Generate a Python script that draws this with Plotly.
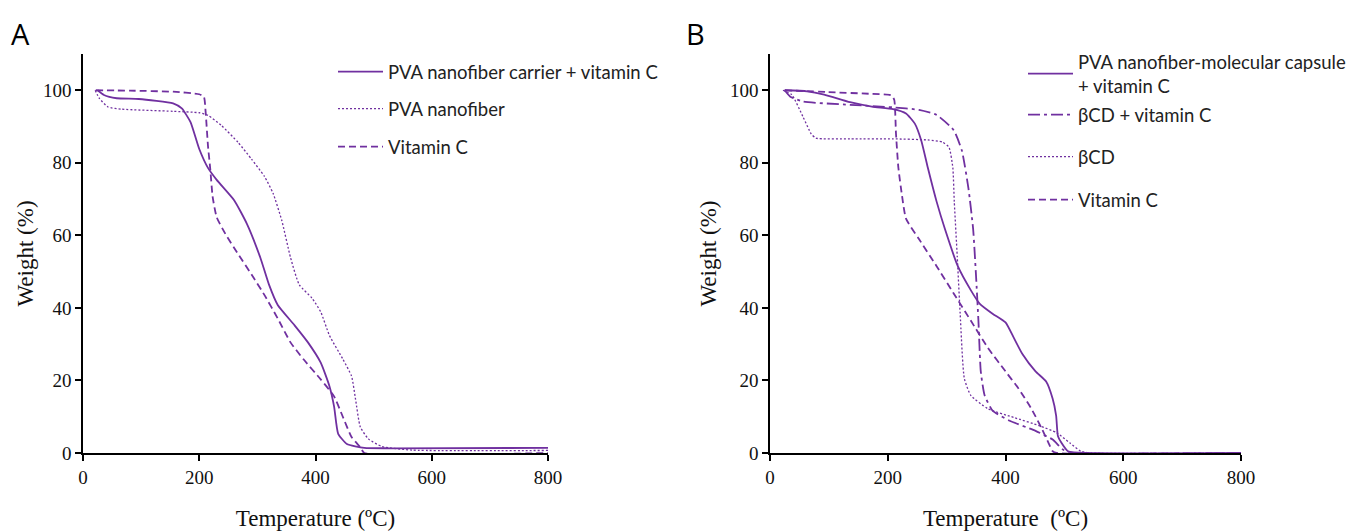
import plotly.graph_objects as go

PURPLE = "#7030A0"

# ---------------- Panel A data ----------------
a_carrier_T = [25, 36, 58, 96, 155, 170, 185, 200, 215, 230, 260, 282, 305, 320, 335, 364, 387, 409, 424, 432, 439, 454, 484, 529, 800]
a_carrier_W = [100, 98.7, 97.8, 97.6, 96.4, 95, 91.2, 83.8, 78.6, 75.3, 69.7, 63.2, 53.9, 46.4, 40.8, 35.2, 30.5, 24.9, 18.4, 12.8, 5.3, 2.5, 1.4, 1.3, 1.4]

a_pva_T = [21, 28, 43, 66, 155, 200, 215, 238, 267, 290, 312, 327, 342, 357, 372, 394, 409, 424, 447, 462, 469, 477, 491, 514, 566, 800]
a_pva_W = [100, 97.8, 95.4, 94.8, 94.2, 93.8, 93.1, 90.3, 85.6, 81, 76.3, 71.6, 64.1, 53.9, 46.4, 42.7, 38.9, 32.4, 25.9, 21.2, 14.7, 7.2, 3.9, 1.8, 0.8, 0.7]

a_vitc_T = [22, 81, 155, 200, 208, 211, 215, 219, 223, 230, 245, 267, 290, 312, 335, 357, 379, 409, 432, 447, 462, 477, 484, 800]
a_vitc_W = [100, 99.9, 99.6, 98.9, 98.2, 94, 84.7, 78.2, 70.7, 65, 60.4, 54.8, 49.2, 43.6, 37.1, 30.5, 25.9, 20.3, 15.6, 10, 4.4, 1.6, 0, 0]

# ---------------- Panel B data ----------------
b_capsule_T = [25, 63, 92, 136, 173, 209, 231, 246, 257, 268, 283, 297, 319, 341, 356, 378, 400, 414, 429, 451, 469, 480, 486, 489, 495, 506, 539, 800]
b_capsule_W = [100, 99.7, 98.8, 96.7, 95.5, 94.8, 93.6, 90.8, 86.1, 78.7, 69.3, 61.8, 51.5, 44.9, 41.2, 38.4, 36, 31.8, 27.2, 22.5, 19.7, 15, 10.3, 4.7, 2.8, 0.5, 0, 0]

b_bcdvit_T = [25, 34, 56, 136, 209, 253, 283, 312, 326, 337, 345, 350, 354, 358, 364.5, 378, 407, 451, 480, 498, 517, 800]
b_bcdvit_W = [100, 98.3, 96.9, 96, 95.3, 94.6, 93.2, 89, 83.3, 73, 61.8, 48.7, 36.5, 22.5, 15.9, 11.7, 8.9, 6.1, 3.7, 0.9, 0, 0]

b_bcd_T = [22, 37, 56, 70, 78, 136, 209, 268, 293, 304, 310.5, 313, 318, 323, 330, 341, 370, 414, 458, 487, 509, 528, 546, 800]
b_bcd_W = [100, 98.8, 92.7, 88, 86.8, 86.6, 86.6, 86.3, 85.7, 84.3, 78.7, 69.3, 54.3, 38.4, 20.6, 15.9, 12.2, 9.8, 7.5, 5.6, 2.8, 0.5, 0, 0]

b_vitc_T = [25, 99.5, 173, 206, 211, 214, 218, 224, 231, 253, 283, 312, 341, 370, 400, 422, 444, 462, 473, 480, 487, 800]
b_vitc_W = [100, 99.5, 99, 98.6, 97.4, 88, 78.7, 71.2, 64.6, 59, 51.5, 44, 36.5, 29, 22.5, 17.8, 12.2, 6.6, 2.8, 0.5, 0, 0]

x_ticks = [0, 200, 400, 600, 800]
y_ticks = [0, 20, 40, 60, 80, 100]

# The page body has an 8px margin; the figure is sized/positioned to compensate.
OFF = 8
W, H = 1354 - OFF, 531 - OFF

def px(x):
    return (x - OFF) / W

def py(y):
    return (H - (y - OFF)) / H

fig = go.Figure()

SOLID = "solid"
DOT = "2px,2px"
DASH = "7px,4px"
DASHDOT = "12px,4px,3px,4px"

def add(x, y, name, dash, width, xa, ya, legend):
    fig.add_trace(go.Scatter(
        x=x, y=y, name=name, mode="lines",
        line=dict(color=PURPLE, width=width, dash=dash, shape="spline", smoothing=0.5),
        xaxis=xa, yaxis=ya, legend=legend,
    ))

add(a_carrier_T, a_carrier_W, "PVA nanofiber carrier + vitamin C", SOLID, 1.8, "x", "y", "legend")
add(a_pva_T, a_pva_W, "PVA nanofiber", DOT, 1.3, "x", "y", "legend2")
add(a_vitc_T, a_vitc_W, "Vitamin C", DASH, 1.8, "x", "y", "legend3")

add(b_capsule_T, b_capsule_W, "PVA nanofiber-molecular capsule<br>+ vitamin C", SOLID, 1.8, "x2", "y2", "legend4")
add(b_bcdvit_T, b_bcdvit_W, "\u03b2CD + vitamin C", DASHDOT, 1.8, "x2", "y2", "legend5")
add(b_bcd_T, b_bcd_W, "\u03b2CD", DOT, 1.3, "x2", "y2", "legend6")
add(b_vitc_T, b_vitc_W, "Vitamin C", DASH, 1.8, "x2", "y2", "legend7")

serif = "Liberation Serif"
tickfont = dict(family=serif, size=19, color="#111")
titlefont = dict(family=serif, size=23, color="#111")

def xax(domain, anchor, title):
    return dict(domain=domain, anchor=anchor, range=[0, 800], tickvals=x_ticks,
                showline=True, linecolor="black", linewidth=1.5, ticks="outside",
                ticklen=6, tickwidth=1.5, tickcolor="black", showgrid=False, zeroline=False,
                automargin=False,
                tickfont=tickfont, title=dict(text=title, font=titlefont, standoff=24))

def yax(domain, anchor, standoff):
    return dict(domain=domain, anchor=anchor, range=[0, 110], tickvals=y_ticks,
                showline=True, linecolor="black", linewidth=1.5, ticks="outside",
                ticklen=6, tickwidth=1.5, tickcolor="black", showgrid=False, zeroline=False,
                automargin=False,
                tickfont=tickfont, title=dict(text="Weight (%)", font=titlefont, standoff=standoff))

legfont = dict(family="Lato", size=18.5, color="#222")

def leg(xp, yp):
    return dict(x=px(xp), y=py(yp), xanchor="left", yanchor="middle",
                font=legfont, bgcolor="rgba(0,0,0,0)", itemwidth=45,
                borderwidth=0)

ydom = [py(453), py(54)]
fig.update_layout(
    width=W, height=H,
    margin=dict(l=0, r=0, t=0, b=0, autoexpand=False),
    paper_bgcolor="white", plot_bgcolor="white",
    xaxis=xax([px(83), px(548)], "y", "Temperature (\u00baC)"),
    yaxis=yax(ydom, "x", 3),
    xaxis2=xax([px(770), px(1241)], "y2", "Temperature  (\u00baC)"),
    yaxis2=yax(ydom, "x2", 7),
    legend=leg(333, 72),
    legend2=leg(333, 109),
    legend3=leg(333, 147),
    legend4=leg(1023, 74),
    legend5=leg(1023, 115),
    legend6=leg(1023, 157),
    legend7=leg(1023, 200),
    showlegend=True,
    annotations=[
        dict(text="A", x=px(9), y=py(33), xref="paper", yref="paper",
             xanchor="left", yanchor="middle", showarrow=False,
             font=dict(family="Open Sans", size=29, color="black")),
        dict(text="B", x=px(684), y=py(33), xref="paper", yref="paper",
             xanchor="left", yanchor="middle", showarrow=False,
             font=dict(family="Open Sans", size=29, color="black")),
    ],
)

fig.write_html("out.html")
